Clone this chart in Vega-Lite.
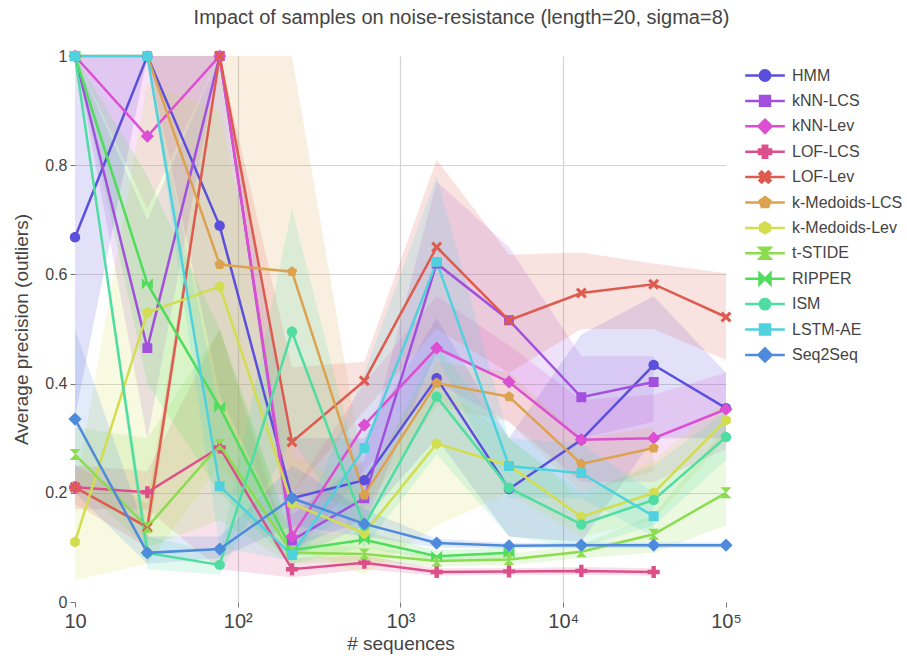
{
 "$schema": "https://vega.github.io/schema/vega-lite/v6.json",
 "width": 651,
 "height": 546,
 "autosize": {"type": "none"},
 "padding": {"left": 75, "top": 56, "right": 181, "bottom": 58},
 "background": "white",
 "title": {"text": "Impact of samples on noise-resistance (length=20, sigma=8)", "fontSize": 20, "font": "Liberation Sans", "fontWeight": "normal", "color": "#444", "anchor": "middle", "frame": "group", "dx": 61, "offset": 20},
 "config": {
  "view": {"stroke": null},
  "font": "Liberation Sans",
  "axis": {"labelFont": "Liberation Sans", "titleFont": "Liberation Sans", "labelColor": "#444", "titleColor": "#444", "titleFontWeight": "normal", "domain": false, "tickColor": "#777", "tickSize": 5, "gridWidth": 1.2, "labelFlush": false},
  "axisX": {"labelFontSize": 20, "titleFontSize": 19, "labelPadding": 4, "titlePadding": 3},
  "axisY": {"labelFontSize": 16, "titleFontSize": 19, "labelPadding": 3, "titlePadding": 13},
  "legend": {"symbolStrokeWidth": 2.5, "symbolOpacity": 1}
 },
 "data": {"values": [
  {"s":"HMM","x":10,"y":0.668,"lo":0.34,"hi":1},
  {"s":"HMM","x":27.83,"y":1,"lo":1,"hi":1},
  {"s":"HMM","x":77.43,"y":0.689,"lo":0.38,"hi":1},
  {"s":"HMM","x":215.4,"y":0.19,"lo":0.1,"hi":0.3},
  {"s":"HMM","x":599.5,"y":0.223,"lo":0.15,"hi":0.3},
  {"s":"HMM","x":1668,"y":0.41,"lo":0.3,"hi":0.52},
  {"s":"HMM","x":4642,"y":0.207,"lo":0.12,"hi":0.3},
  {"s":"HMM","x":12915,"y":0.297,"lo":0.11,"hi":0.49},
  {"s":"HMM","x":35938,"y":0.434,"lo":0.3,"hi":0.56},
  {"s":"HMM","x":100000,"y":0.355,"lo":0.3,"hi":0.42},
  {"s":"kNN-LCS","x":10,"y":1,"lo":1,"hi":1},
  {"s":"kNN-LCS","x":27.83,"y":0.465,"lo":0.3,"hi":0.7},
  {"s":"kNN-LCS","x":77.43,"y":1,"lo":1,"hi":1},
  {"s":"kNN-LCS","x":215.4,"y":0.113,"lo":0.08,"hi":0.16},
  {"s":"kNN-LCS","x":599.5,"y":0.19,"lo":0.14,"hi":0.26},
  {"s":"kNN-LCS","x":1668,"y":0.62,"lo":0.46,"hi":0.77},
  {"s":"kNN-LCS","x":4642,"y":0.516,"lo":0.4,"hi":0.65},
  {"s":"kNN-LCS","x":12915,"y":0.375,"lo":0.3,"hi":0.45},
  {"s":"kNN-LCS","x":35938,"y":0.403,"lo":0.33,"hi":0.45},
  {"s":"kNN-Lev","x":10,"y":1,"lo":1,"hi":1},
  {"s":"kNN-Lev","x":27.83,"y":0.853,"lo":0.72,"hi":1},
  {"s":"kNN-Lev","x":77.43,"y":1,"lo":1,"hi":1},
  {"s":"kNN-Lev","x":215.4,"y":0.12,"lo":0.08,"hi":0.2},
  {"s":"kNN-Lev","x":599.5,"y":0.324,"lo":0.24,"hi":0.4},
  {"s":"kNN-Lev","x":1668,"y":0.465,"lo":0.4,"hi":0.56},
  {"s":"kNN-Lev","x":4642,"y":0.403,"lo":0.33,"hi":0.47},
  {"s":"kNN-Lev","x":12915,"y":0.297,"lo":0.22,"hi":0.37},
  {"s":"kNN-Lev","x":35938,"y":0.3,"lo":0.22,"hi":0.38},
  {"s":"kNN-Lev","x":100000,"y":0.353,"lo":0.28,"hi":0.42},
  {"s":"LOF-LCS","x":10,"y":0.21,"lo":0.17,"hi":0.25},
  {"s":"LOF-LCS","x":27.83,"y":0.201,"lo":0.17,"hi":0.24},
  {"s":"LOF-LCS","x":77.43,"y":0.283,"lo":0.06,"hi":0.5},
  {"s":"LOF-LCS","x":215.4,"y":0.06,"lo":0.045,"hi":0.08},
  {"s":"LOF-LCS","x":599.5,"y":0.072,"lo":0.06,"hi":0.085},
  {"s":"LOF-LCS","x":1668,"y":0.055,"lo":0.048,"hi":0.062},
  {"s":"LOF-LCS","x":4642,"y":0.056,"lo":0.05,"hi":0.062},
  {"s":"LOF-LCS","x":12915,"y":0.057,"lo":0.05,"hi":0.064},
  {"s":"LOF-LCS","x":35938,"y":0.055,"lo":0.048,"hi":0.062},
  {"s":"LOF-Lev","x":10,"y":0.21,"lo":0.18,"hi":0.25},
  {"s":"LOF-Lev","x":27.83,"y":0.137,"lo":0.1,"hi":0.18},
  {"s":"LOF-Lev","x":77.43,"y":1,"lo":1,"hi":1},
  {"s":"LOF-Lev","x":215.4,"y":0.293,"lo":0.2,"hi":0.43},
  {"s":"LOF-Lev","x":599.5,"y":0.405,"lo":0.35,"hi":0.44},
  {"s":"LOF-Lev","x":1668,"y":0.65,"lo":0.5,"hi":0.81},
  {"s":"LOF-Lev","x":4642,"y":0.516,"lo":0.42,"hi":0.636},
  {"s":"LOF-Lev","x":12915,"y":0.566,"lo":0.5,"hi":0.64},
  {"s":"LOF-Lev","x":35938,"y":0.582,"lo":0.5,"hi":0.62},
  {"s":"LOF-Lev","x":100000,"y":0.522,"lo":0.443,"hi":0.602},
  {"s":"k-Medoids-LCS","x":10,"y":1,"lo":1,"hi":1},
  {"s":"k-Medoids-LCS","x":27.83,"y":1,"lo":1,"hi":1},
  {"s":"k-Medoids-LCS","x":77.43,"y":0.618,"lo":0.2,"hi":1},
  {"s":"k-Medoids-LCS","x":215.4,"y":0.605,"lo":0.2,"hi":1},
  {"s":"k-Medoids-LCS","x":599.5,"y":0.196,"lo":0.17,"hi":0.23},
  {"s":"k-Medoids-LCS","x":1668,"y":0.401,"lo":0.36,"hi":0.44},
  {"s":"k-Medoids-LCS","x":4642,"y":0.376,"lo":0.33,"hi":0.42},
  {"s":"k-Medoids-LCS","x":12915,"y":0.253,"lo":0.2,"hi":0.3},
  {"s":"k-Medoids-LCS","x":35938,"y":0.282,"lo":0.24,"hi":0.32},
  {"s":"k-Medoids-Lev","x":10,"y":0.11,"lo":0.04,"hi":0.2},
  {"s":"k-Medoids-Lev","x":27.83,"y":0.53,"lo":0.07,"hi":0.95},
  {"s":"k-Medoids-Lev","x":77.43,"y":0.578,"lo":0.25,"hi":0.9},
  {"s":"k-Medoids-Lev","x":215.4,"y":0.18,"lo":0.1,"hi":0.27},
  {"s":"k-Medoids-Lev","x":599.5,"y":0.126,"lo":0.05,"hi":0.2},
  {"s":"k-Medoids-Lev","x":1668,"y":0.29,"lo":0.14,"hi":0.4},
  {"s":"k-Medoids-Lev","x":4642,"y":0.25,"lo":0.2,"hi":0.3},
  {"s":"k-Medoids-Lev","x":12915,"y":0.156,"lo":0.12,"hi":0.19},
  {"s":"k-Medoids-Lev","x":35938,"y":0.2,"lo":0.15,"hi":0.26},
  {"s":"k-Medoids-Lev","x":100000,"y":0.333,"lo":0.3,"hi":0.37},
  {"s":"t-STIDE","x":10,"y":0.27,"lo":0.22,"hi":0.32},
  {"s":"t-STIDE","x":27.83,"y":0.137,"lo":0.1,"hi":0.3},
  {"s":"t-STIDE","x":77.43,"y":0.288,"lo":0.15,"hi":0.5},
  {"s":"t-STIDE","x":215.4,"y":0.09,"lo":0.07,"hi":0.11},
  {"s":"t-STIDE","x":599.5,"y":0.088,"lo":0.075,"hi":0.1},
  {"s":"t-STIDE","x":1668,"y":0.075,"lo":0.065,"hi":0.085},
  {"s":"t-STIDE","x":4642,"y":0.078,"lo":0.068,"hi":0.088},
  {"s":"t-STIDE","x":12915,"y":0.092,"lo":0.08,"hi":0.105},
  {"s":"t-STIDE","x":35938,"y":0.124,"lo":0.09,"hi":0.16},
  {"s":"t-STIDE","x":100000,"y":0.2,"lo":0.14,"hi":0.32},
  {"s":"RIPPER","x":10,"y":1,"lo":1,"hi":1},
  {"s":"RIPPER","x":27.83,"y":0.583,"lo":0.4,"hi":0.78},
  {"s":"RIPPER","x":77.43,"y":0.357,"lo":0.2,"hi":0.5},
  {"s":"RIPPER","x":215.4,"y":0.095,"lo":0.07,"hi":0.12},
  {"s":"RIPPER","x":599.5,"y":0.114,"lo":0.1,"hi":0.13},
  {"s":"RIPPER","x":1668,"y":0.084,"lo":0.075,"hi":0.095},
  {"s":"RIPPER","x":4642,"y":0.09,"lo":0.08,"hi":0.1},
  {"s":"ISM","x":10,"y":1,"lo":1,"hi":1},
  {"s":"ISM","x":27.83,"y":0.09,"lo":0.06,"hi":0.12},
  {"s":"ISM","x":77.43,"y":0.068,"lo":0.05,"hi":0.09},
  {"s":"ISM","x":215.4,"y":0.495,"lo":0.3,"hi":0.72},
  {"s":"ISM","x":599.5,"y":0.14,"lo":0.1,"hi":0.2},
  {"s":"ISM","x":1668,"y":0.376,"lo":0.27,"hi":0.47},
  {"s":"ISM","x":4642,"y":0.209,"lo":0.12,"hi":0.3},
  {"s":"ISM","x":12915,"y":0.142,"lo":0.1,"hi":0.2},
  {"s":"ISM","x":35938,"y":0.187,"lo":0.14,"hi":0.25},
  {"s":"ISM","x":100000,"y":0.302,"lo":0.26,"hi":0.35},
  {"s":"LSTM-AE","x":10,"y":1,"lo":1,"hi":1},
  {"s":"LSTM-AE","x":27.83,"y":1,"lo":1,"hi":1},
  {"s":"LSTM-AE","x":77.43,"y":0.212,"lo":0.1,"hi":0.35},
  {"s":"LSTM-AE","x":215.4,"y":0.086,"lo":0.075,"hi":0.1},
  {"s":"LSTM-AE","x":599.5,"y":0.282,"lo":0.2,"hi":0.42},
  {"s":"LSTM-AE","x":1668,"y":0.623,"lo":0.45,"hi":0.78},
  {"s":"LSTM-AE","x":4642,"y":0.249,"lo":0.19,"hi":0.3},
  {"s":"LSTM-AE","x":12915,"y":0.236,"lo":0.19,"hi":0.29},
  {"s":"LSTM-AE","x":35938,"y":0.157,"lo":0.12,"hi":0.2},
  {"s":"Seq2Seq","x":10,"y":0.335,"lo":0.2,"hi":0.5},
  {"s":"Seq2Seq","x":27.83,"y":0.09,"lo":0.07,"hi":0.12},
  {"s":"Seq2Seq","x":77.43,"y":0.097,"lo":0.08,"hi":0.12},
  {"s":"Seq2Seq","x":215.4,"y":0.19,"lo":0.14,"hi":0.25},
  {"s":"Seq2Seq","x":599.5,"y":0.143,"lo":0.12,"hi":0.17},
  {"s":"Seq2Seq","x":1668,"y":0.108,"lo":0.1,"hi":0.116},
  {"s":"Seq2Seq","x":4642,"y":0.103,"lo":0.098,"hi":0.108},
  {"s":"Seq2Seq","x":12915,"y":0.104,"lo":0.099,"hi":0.109},
  {"s":"Seq2Seq","x":35938,"y":0.104,"lo":0.099,"hi":0.109},
  {"s":"Seq2Seq","x":100000,"y":0.104,"lo":0.099,"hi":0.109}
 ]},
 "encoding": {
  "x": {"field": "x", "type": "quantitative", "title": "# sequences",
   "scale": {"type": "log", "domain": [10, 100000], "nice": false},
   "axis": {"values": [10, 100, 1000, 10000, 100000],
    "labelExpr": "datum.value == 10 ? '10' : datum.value == 100 ? '10²' : datum.value == 1000 ? '10³' : datum.value == 10000 ? '10⁴' : '10⁵'",
    "gridColor": {"condition": {"test": "datum.value == 10 || datum.value == 100000", "value": "transparent"}, "value": "#d4d4d4"}}},
  "color": {"field": "s", "type": "nominal",
   "scale": {"domain": ["HMM","kNN-LCS","kNN-Lev","LOF-LCS","LOF-Lev","k-Medoids-LCS","k-Medoids-Lev","t-STIDE","RIPPER","ISM","LSTM-AE","Seq2Seq"],
    "range": ["#5b4fdd","#a24fdd","#dd4fd2","#dd4f8b","#dd5b4f","#dda24f","#d2dd4f","#8bdd4f","#4fdd5b","#4fdda2","#4fd2dd","#4f8bdd"]},
   "legend": {"title": null, "orient": "none", "legendX": 682, "legendY": 11.5, "padding": 0,
    "symbolSize": 121, "symbolStrokeWidth": 2.5, "labelOffset": 19, "rowPadding": -0.6,
    "labelFontSize": 16, "labelFont": "Liberation Sans", "labelColor": "#444", "symbolOpacity": 1}}
 },
 "layer": [
  {"mark": {"type": "area", "fillOpacity": 0.17, "interpolate": "linear"},
   "encoding": {
    "y": {"field": "lo", "type": "quantitative", "title": "Average precision (outliers)", "scale": {"domain": [0, 1], "nice": false},
     "axis": {"values": [0, 0.2, 0.4, 0.6, 0.8, 1], "format": "~g", "gridColor": {"condition": {"test": "datum.value == 0 || datum.value == 1", "value": "transparent"}, "value": "#d4d4d4"}}},
    "y2": {"field": "hi"}}},
  {"mark": {"type": "line", "strokeWidth": 2.5, "interpolate": "linear"},
   "encoding": {
    "y": {"field": "y", "type": "quantitative", "title": "Average precision (outliers)", "axis": {"values": [0, 0.2, 0.4, 0.6, 0.8, 1], "format": "~g", "gridColor": {"condition": {"test": "datum.value == 0 || datum.value == 1", "value": "transparent"}, "value": "#d4d4d4"}}}}},
  {"mark": {"type": "point", "filled": true, "size": 121, "opacity": 1},
   "encoding": {
    "y": {"field": "y", "type": "quantitative", "title": "Average precision (outliers)", "axis": {"values": [0, 0.2, 0.4, 0.6, 0.8, 1], "format": "~g", "gridColor": {"condition": {"test": "datum.value == 0 || datum.value == 1", "value": "transparent"}, "value": "#d4d4d4"}}},
    "shape": {"field": "s", "type": "nominal",
     "legend": {"title": null, "orient": "none", "legendX": 682, "legendY": 11.5, "padding": 0,
      "symbolSize": 121, "symbolStrokeWidth": 2.5, "labelOffset": 19, "rowPadding": -0.6,
      "labelFontSize": 16, "labelFont": "Liberation Sans", "labelColor": "#444", "symbolOpacity": 1},
     "scale": {"domain": ["HMM","kNN-LCS","kNN-Lev","LOF-LCS","LOF-Lev","k-Medoids-LCS","k-Medoids-Lev","t-STIDE","RIPPER","ISM","LSTM-AE","Seq2Seq"],
      "range": [
       "M-3.6,-1.3M3.6,1.3M-3.6,0H3.6M0,-0.95A0.95,0.95,0,1,1,0,0.95A0.95,0.95,0,1,1,0,-0.95Z",
       "M-3.6,-1.3M3.6,1.3M-3.6,0H3.6M-0.9,-0.9H0.9V0.9H-0.9Z",
       "M-3.6,-1.3M3.6,1.3M-3.6,0H3.6M0,-1.2L1.2,0L0,1.2L-1.2,0Z",
       "M-3.6,-1.3M3.6,1.3M-3.6,0H3.6M-0.4,-1.1H0.4V-0.4H1.1V0.4H0.4V1.1H-0.4V0.4H-1.1V-0.4H-0.4Z",
       "M-3.6,-1.3M3.6,1.3M-3.6,0H3.6M-1,-0.6L-0.6,-1L0,-0.4L0.6,-1L1,-0.6L0.4,0L1,0.6L0.6,1L0,0.4L-0.6,1L-1,0.6L-0.4,0Z",
       "M-3.6,-1.3M3.6,1.3M-3.6,0H3.6M0,-1L0.95,-0.31L0.59,0.81L-0.59,0.81L-0.95,-0.31Z",
       "M-3.6,-1.3M3.6,1.3M-3.6,0H3.6M0,-1L0.87,-0.5L0.87,0.5L0,1L-0.87,0.5L-0.87,-0.5Z",
       "M-3.6,-1.3M3.6,1.3M-3.6,0H3.6M-1,-1L1,-1L-1,1L1,1Z",
       "M-3.6,-1.3M3.6,1.3M-3.6,0H3.6M-1,-1L-1,1L1,-1L1,1Z",
       "M-3.6,-1.3M3.6,1.3M-3.6,0H3.6M0,-0.95A0.95,0.95,0,1,1,0,0.95A0.95,0.95,0,1,1,0,-0.95Z",
       "M-3.6,-1.3M3.6,1.3M-3.6,0H3.6M-0.9,-0.9H0.9V0.9H-0.9Z",
       "M-3.6,-1.3M3.6,1.3M-3.6,0H3.6M0,-1.2L1.2,0L0,1.2L-1.2,0Z"]}}}}
 ]
}
